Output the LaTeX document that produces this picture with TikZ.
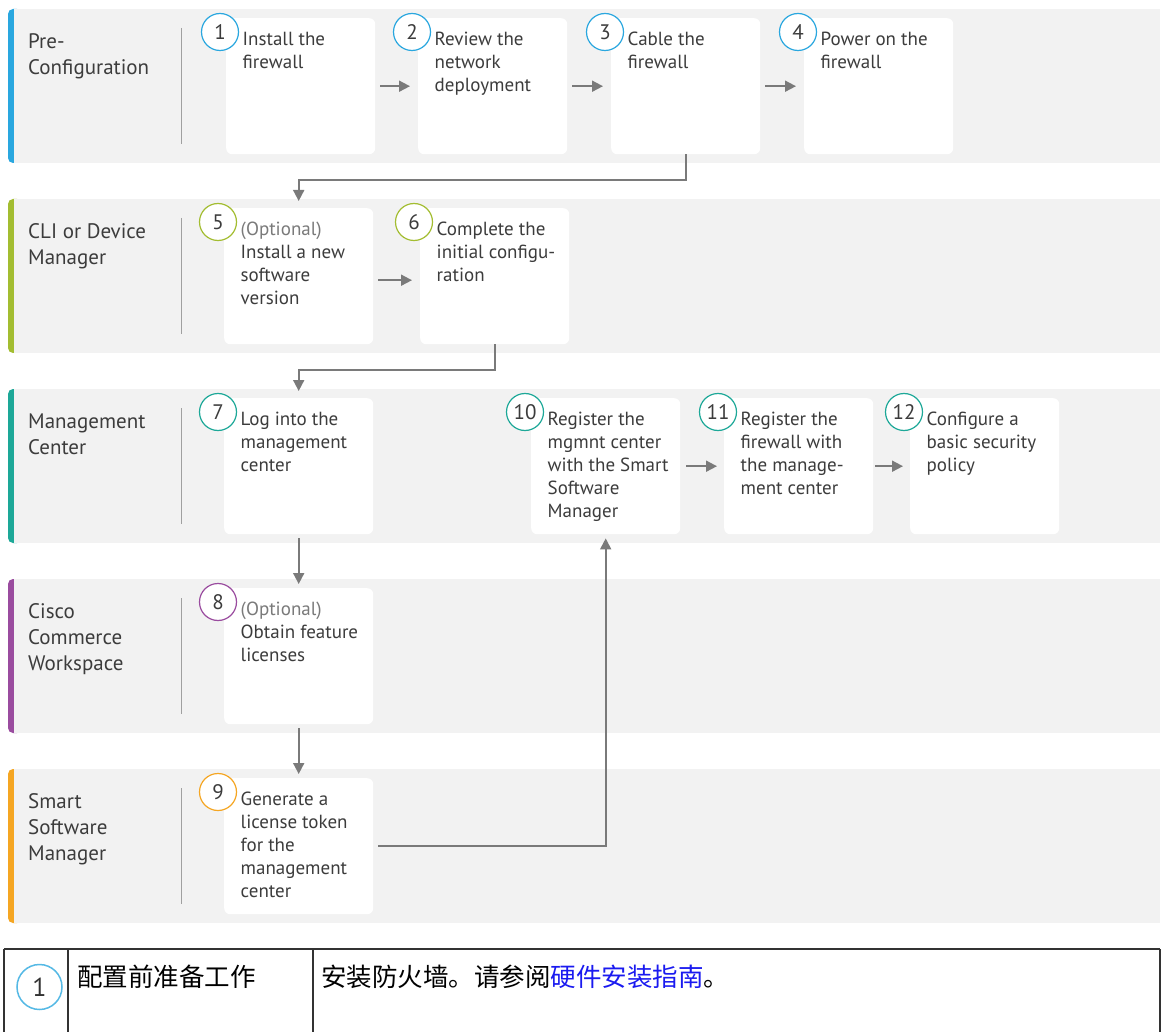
\documentclass[tikz,border=0pt]{standalone}
\usepackage{fontspec}
\setmainfont{PT Sans}
\newfontfamily\cjk{Noto Sans CJK SC}
\usetikzlibrary{arrows.meta}
\definecolor{lanebg}{HTML}{F2F2F2}
\definecolor{txt}{HTML}{3C3C3C}
\definecolor{optg}{HTML}{7A7A7A}
\definecolor{arrg}{HTML}{7A7A7A}
\definecolor{divg}{HTML}{A0A0A0}
\definecolor{cblue}{HTML}{2AA7DF}
\definecolor{cgreen}{HTML}{A3BD31}
\definecolor{cteal}{HTML}{1DA898}
\definecolor{cpurple}{HTML}{9A4C9F}
\definecolor{corange}{HTML}{F5A623}
\definecolor{linkblue}{HTML}{1A1AF0}
\definecolor{tblc}{HTML}{333333}
\tikzset{
  lanebox/.style={fill=lanebg, draw=none},
  stepcard/.style={fill=white, draw=none, rounded corners=6pt, minimum width=149pt,
    minimum height=136pt, anchor=north west, inner sep=0pt},
  numcirc/.style={circle, fill=white, draw=#1, line width=1.2pt, minimum size=37pt,
    inner sep=0pt, font=\fontsize{21}{21}\selectfont, text=txt},
  cardtext/.style={anchor=north west, inner sep=0pt, align=left,
    font=\fontsize{19}{23}\selectfont, text=txt},
  lanetext/.style={anchor=north west, inner sep=0pt, align=left,
    font=\fontsize{21}{26}\selectfont, text=txt},
  divline/.style={draw=divg, line width=1pt},
  arr/.style={draw=arrg, line width=1.8pt, -{Triangle[length=11pt,width=11pt]}},
  tblline/.style={draw=tblc, line width=1.2pt},
}
% lane: name, top y, colour, label
\newcommand{\mylane}[4]{%
  \fill[#3, rounded corners=5pt] (8,#2) rectangle (22,#2+154);
  \fill[lanebox] (14,#2) rectangle (1160,#2+154);
  \node[lanetext] (#1) at (28,#2+39-18.2) {\strut #4};
  \draw[divline] (181,#2+19) -- (181,#2+135);
}
% card: name, left x, top y, number, colour, text
\newcommand{\mycard}[6]{%
  \node[stepcard] (#1) at (#2,#3) {};
  \node[numcirc=#5] (#1n) at (#2-6,#3+14) {#4};
  \node[cardtext] (#1t) at (#2+16.5,#3+27-16.1) {\strut #6};
}
\begin{document}
\begin{tikzpicture}[x=1pt,y=-1pt]
\useasboundingbox[fill=white] (0,0) rectangle (1165,1032);

\mylane{l1}{9}{cblue}{Pre-\\Configuration}
\mylane{l2}{199}{cgreen}{CLI or Device\\Manager}
\mylane{l3}{389}{cteal}{Management\\Center}
\mylane{l4}{579}{cpurple}{Cisco\\Commerce\\Workspace}
\mylane{l5}{769}{corange}{Smart\\Software\\Manager}

\mycard{b1}{226}{18}{1}{cblue}{Install the\\firewall}
\mycard{b2}{418}{18}{2}{cblue}{Review the\\network\\deployment}
\mycard{b3}{611}{18}{3}{cblue}{Cable the\\firewall}
\mycard{b4}{804}{18}{4}{cblue}{Power on the\\firewall}

\mycard{b5}{224}{208}{5}{cgreen}{{\color{optg}(Optional)}\\Install a new\\software\\version}
\mycard{b6}{420}{208}{6}{cgreen}{Complete the\\initial configu-\\ration}

\mycard{b7}{224}{398}{7}{cteal}{Log into the\\management\\center}
\mycard{b10}{531}{398}{10}{cteal}{Register the\\mgmnt center\\with the Smart\\Software\\Manager}
\mycard{b11}{724}{398}{11}{cteal}{Register the\\firewall with\\the manage-\\ment center}
\mycard{b12}{910}{398}{12}{cteal}{Configure a\\basic security\\policy}

\mycard{b8}{224}{588}{8}{cpurple}{{\color{optg}(Optional)}\\Obtain feature\\licenses}
\mycard{b9}{224}{778}{9}{corange}{Generate a\\license token\\for the\\management\\center}

% connectors
\draw[arr, shorten <=5pt, shorten >=8pt] (b1.east) -- (b2.west);
\draw[arr, shorten <=5pt, shorten >=8pt] (b2.east) -- (b3.west);
\draw[arr, shorten <=5pt, shorten >=8pt] (b3.east) -- (b4.west);
\draw[arr, shorten <=5pt, shorten >=8pt] ([yshift=-4pt]b5.east) -- ([yshift=-4pt]b6.west);
\draw[arr, shorten <=6pt, shorten >=7pt] (b10.east) -- (b11.west);
\draw[arr, shorten <=2pt, shorten >=7pt] (b11.east) -- (b12.west);

\draw[arr, shorten >=7pt] (b3.south) -- ++(0,26) -| (b5.north);
\draw[arr, shorten >=7pt] (b6.south) -- ++(0,26) -| (b7.north);
\draw[arr, shorten <=4pt, shorten >=4pt] (b7.south) -- (b8.north);
\draw[arr, shorten <=4pt, shorten >=4pt] (b8.south) -- (b9.north);
\draw[arr, shorten <=5pt, shorten >=4pt] (b9.east) -| (b10.south);

% table
\coordinate (t0) at (4,949);
\coordinate (t1) at (1160,949);
\draw[tblc, line width=2pt] (t0) -- (t1);
\draw[tblline] (4,949) -- (4,1032);
\draw[tblline] (68,949) -- (68,1032);
\draw[tblline] (313,949) -- (313,1032);
\draw[tblline] (1160,949) -- (1160,1032);
\node[circle, draw=cblue!80, line width=1.5pt, minimum size=45pt, inner sep=0pt,
  font=\fontsize{26}{26}\selectfont, text=tblc] (tc) at (39.5,987) {1};
\node[anchor=west, inner sep=0pt, font=\cjk\fontsize{25.5}{26}\selectfont, text=black] (tl) at (77,977) {配置前准备工作};
\node[anchor=west, inner sep=0pt, font=\cjk\fontsize{25.5}{26}\selectfont, text=black] (td) at (321,977)
  {安装防火墙。请参阅{\color{linkblue}硬件安装指南}。};
\end{tikzpicture}
\end{document}
